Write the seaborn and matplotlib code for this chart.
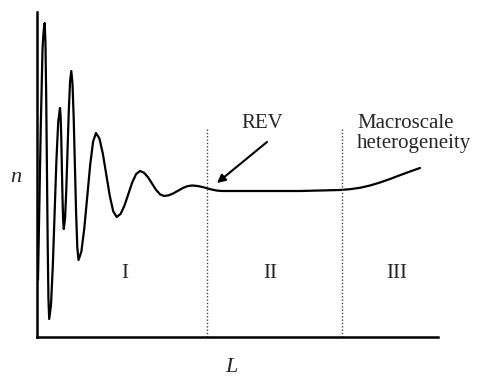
import numpy as np
import pandas as pd
import seaborn as sns
import matplotlib.pyplot as plt

## Data (arbitrary units: L across, n up)
L = [1, 3.7, 5.5, 6.2, 6.8, 7.2, 7.7,
     8.45, 9.2, 9.95, 10.7, 11.45, 12.2,
     14.0, 15.8, 17.6, 19.4, 21.2, 23,
     23.63, 24.27, 24.9, 25.53, 26.17, 26.8,
     28.05, 29.3, 30.55, 31.8, 33.05, 34.3,
     35.5, 36.7, 37.9, 39.1, 40.3, 41.5,
     44.4, 47.3, 50.25, 53.2, 56.1, 59,
     62.45, 65.9, 69.35, 72.8, 76.25, 79.7,
     83.6, 87.5, 91.35, 95.2, 99.1, 103,
     107, 111, 115, 119, 123, 127,
     131.7, 136.3, 141, 145.7, 150.3, 155,
     160, 165, 170, 175, 180, 185,
     213, 263, 303, 313, 323, 333, 343, 353, 363, 373, 383]
n = [57, 207, 287, 300, 307, 312, 314,
     294.2, 240, 166, 92, 37.8, 18,
     32.1, 70.8, 123.5, 176.3, 214.9, 229,
     220.9, 198.8, 168.5, 138.3, 116.1, 108,
     118.6, 147.5, 187, 226.5, 255.4, 266,
     253.3, 218.8, 171.5, 124.3, 89.7, 77,
     85.5, 108.8, 140.5, 172.3, 195.5, 204,
     198.4, 183, 162, 141, 125.6, 120,
     123.1, 131.5, 143, 154.5, 162.9, 166,
     164.3, 159.75, 153.5, 147.25, 142.7, 141,
     141.7, 143.6, 146.25, 148.9, 150.8, 151.5,
     151.1, 150.1, 148.75, 147.4, 146.4, 146,
     146, 146, 147, 147.8, 149.2, 151.5, 154.5, 158, 161.8, 165.5, 169]
boundaries = [170, 305]
regions = ["I", "II", "III"]
region_pos = [88, 233, 360]

curve = pd.DataFrame({"L": L, "n": n})

sns.set_style("white")
plt.rcParams["font.family"] = ["Liberation Serif", "DejaVu Serif"]

fig = plt.figure(figsize=(4.83, 3.76), dpi=100)
ax = fig.add_axes([37 / 483, 1 - 337 / 376, 401 / 483, 325 / 376])

sns.lineplot(data=curve, x="L", y="n", sort=False, estimator=None,
             color="black", lw=1.6, ax=ax)

# region boundaries
for b in boundaries:
    ax.plot([b, b], [0, 209], color="#444444", lw=1.0, linestyle=(0, (1, 1.4)))

for lab, x in zip(regions, region_pos):
    ax.text(x, 64, lab, ha="center", va="center", fontsize=15)

ax.annotate("", xy=(180, 154), xytext=(230, 195),
            arrowprops=dict(arrowstyle="-|>", color="black", lw=1.5,
                            mutation_scale=12, shrinkA=0, shrinkB=0))
ax.text(225.5, 213, "REV", ha="center", va="center", fontsize=15)
ax.text(320, 209, "Macroscale", ha="left", va="baseline", fontsize=15)
ax.text(320, 189, "heterogeneity", ha="left", va="baseline", fontsize=15)

ax.text(-21.5, 159, "n", ha="center", va="center", fontsize=16, style="italic")
ax.text(194, -30.5, "L", ha="center", va="center", fontsize=16, style="italic")

ax.set_xlim(0, 401)
ax.set_ylim(0, 325)
ax.set_xticks([])
ax.set_yticks([])
ax.set_xlabel("")
ax.set_ylabel("")
sns.despine(ax=ax)
for side in ["left", "bottom"]:
    ax.spines[side].set_linewidth(1.8)
    ax.spines[side].set_color("black")

fig.savefig("out.png", dpi=100)
